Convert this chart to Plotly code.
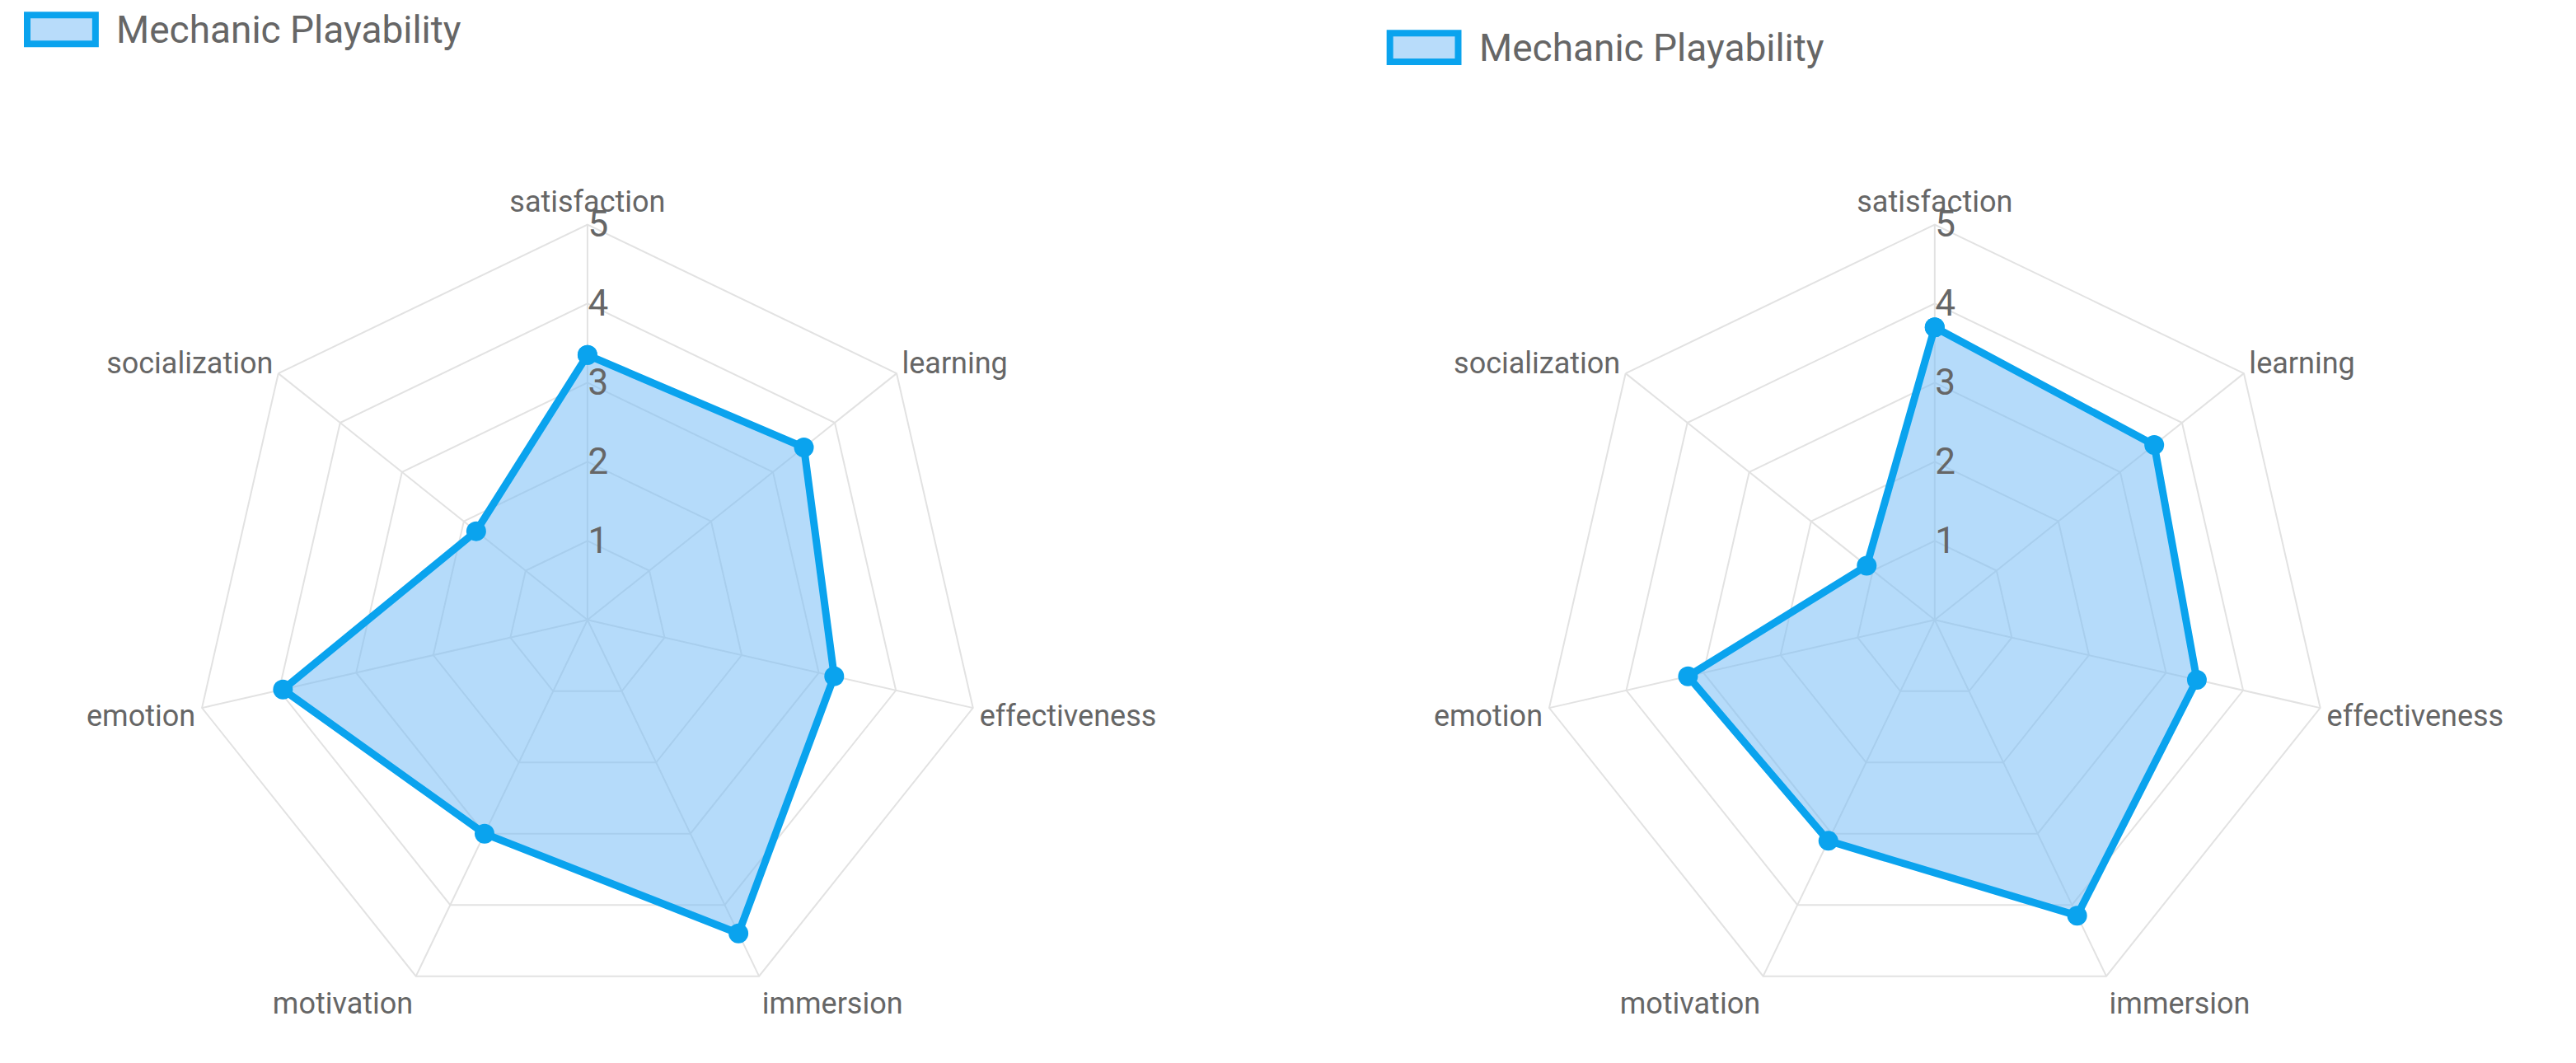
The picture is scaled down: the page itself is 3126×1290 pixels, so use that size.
import plotly.graph_objects as go

categories = ["satisfaction", "learning", "effectiveness", "immersion", "motivation", "emotion", "socialization"]
left_values = [3.35, 3.5, 3.2, 4.4, 3.0, 3.95, 1.8]
right_values = [3.7, 3.55, 3.4, 4.15, 3.1, 3.2, 1.1]
series_name = "Mechanic Playability"

blue = "#0aa3ee"
fill = "rgba(120,190,245,0.55)"

fig = go.Figure()
for vals, pol in [(left_values, "polar"), (right_values, "polar2")]:
    fig.add_trace(go.Scatterpolar(
        r=vals + vals[:1], theta=categories + categories[:1], subplot=pol, showlegend=False,
        name=series_name, fill="toself", fillcolor=fill,
        line=dict(color=blue, width=9), marker=dict(size=24, color=blue), mode="lines+markers"))

def polar(xd):
    return dict(
        domain=dict(x=xd, y=[0.051, 0.795]), gridshape="linear", bgcolor="white",
        angularaxis=dict(rotation=90, direction="clockwise", showline=True, linecolor="#e2e2e2",
                         gridcolor="#e2e2e2", gridwidth=2, linewidth=2, ticks="",
                         tickfont=dict(size=36, color="#666")),
        radialaxis=dict(range=[0, 5], tickvals=[1, 2, 3, 4, 5], angle=90, tickangle=90,
                        showline=False, gridcolor="#e2e2e2", gridwidth=2, ticks="",
                        tickfont=dict(size=44, color="#666")))

shapes = []
annotations = []
for x0, y0 in [(0.008, 0.965), (0.537, 0.948)]:
    shapes.append(dict(type="rect", xref="paper", yref="paper", x0=x0, x1=x0 + 0.0265,
                       y0=y0, y1=y0 + 0.027, fillcolor="#b8dcfa", line=dict(color=blue, width=8)))
    annotations.append(dict(xref="paper", yref="paper", x=x0 + 0.034, y=y0 + 0.0135,
                            xanchor="left", yanchor="middle", text=series_name, showarrow=False,
                            font=dict(size=46, color="#666")))

fig.update_layout(
    width=3126, height=1290, paper_bgcolor="white", margin=dict(l=0, r=0, t=0, b=0),
    font=dict(family="Roboto, Arial, sans-serif"),
    polar=polar([0.072, 0.379]), polar2=polar([0.595, 0.902]),
    shapes=shapes, annotations=annotations,
)
fig.write_html("out.html")
